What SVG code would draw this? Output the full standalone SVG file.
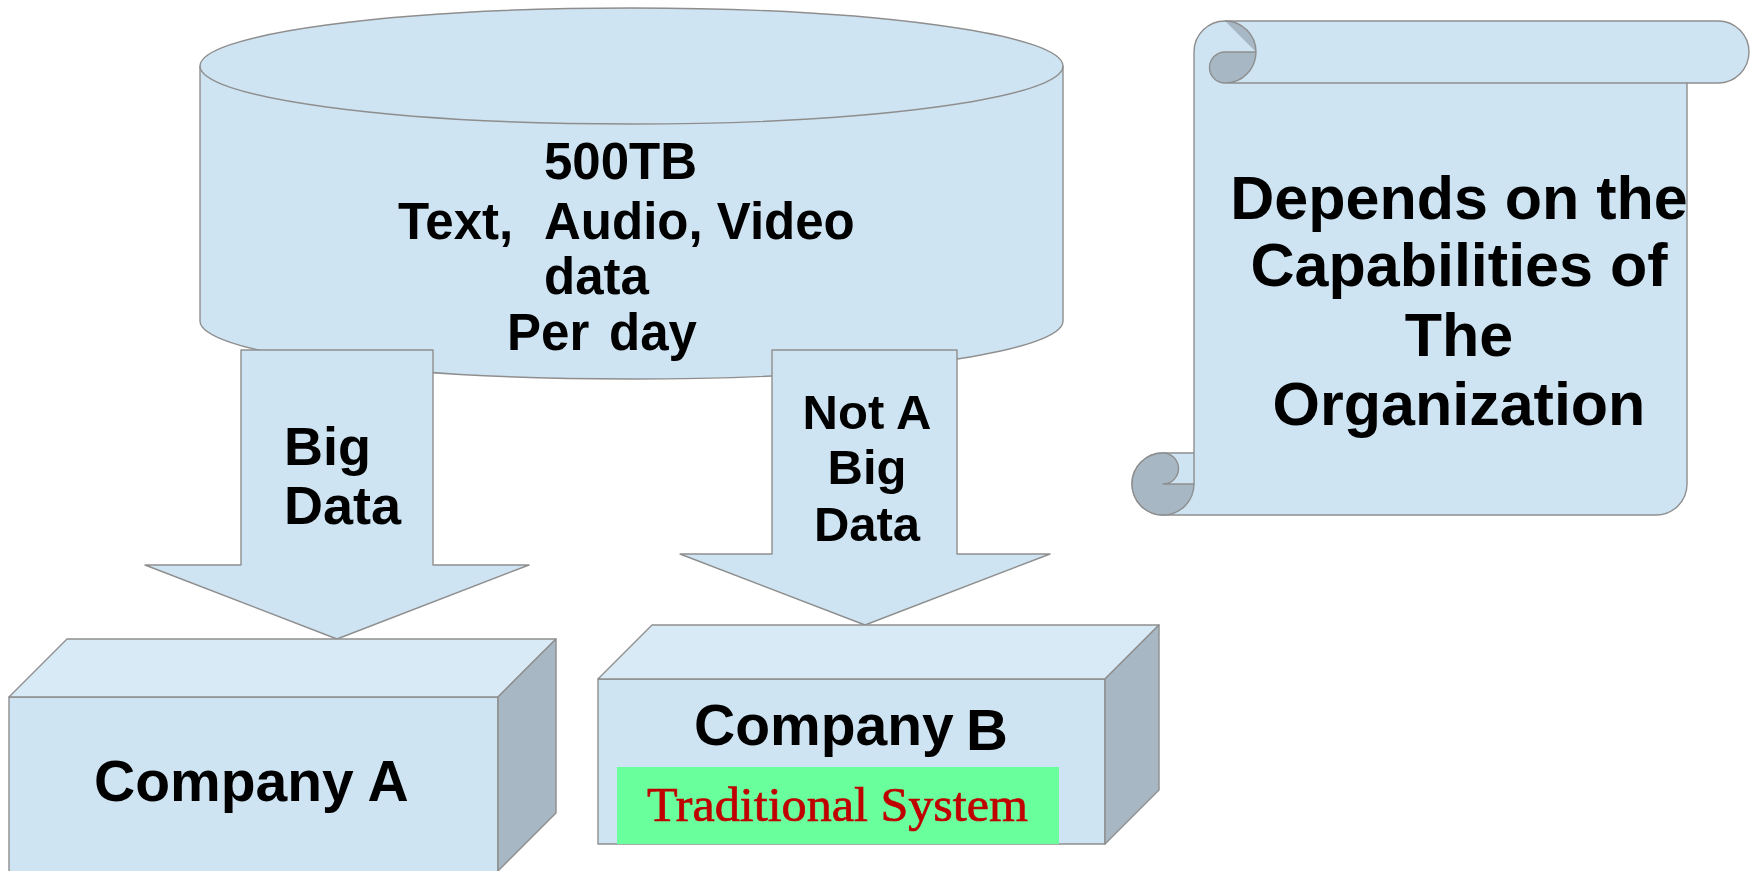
<svg xmlns="http://www.w3.org/2000/svg" width="1752" height="871" viewBox="0 0 1752 871">
  <style>
    .shape { fill: #cfe4f2; stroke: #8e8e8e; stroke-width: 1.4; stroke-linejoin: round; }
    .top { fill: #d7eaf6; stroke: #8e8e8e; stroke-width: 1.4; stroke-linejoin: round; }
    .side { fill: #a7b8c4; stroke: #8e8e8e; stroke-width: 1.4; stroke-linejoin: round; }
    .curl { fill: #a7b8c4; stroke: none; }
    .line { fill: none; stroke: #8e8e8e; stroke-width: 1.4; }
    .lbl { font-family: "Liberation Sans", Arial, sans-serif; font-weight: bold; fill: #000; }
    .tag { font-family: "Liberation Serif", "Times New Roman", serif; fill: #c00000; stroke: #c00000; stroke-width: 0.7; }
  </style>

  <!-- data store: cylinder -->
  <g id="datastore">
    <path class="shape" d="M200,66 A431.5 58 0 0 1 1063,66 L1063,321 A431.5 58 0 0 1 200,321 Z"/>
    <path class="line" d="M200,66 A431.5 58 0 0 0 1063,66"/>
    <g class="lbl" font-size="51">
      <text x="544" y="179">500TB</text>
      <text x="398" y="239">Text,</text>
      <text x="544" y="239">Audio, Video</text>
      <text x="544" y="294">data</text>
      <text x="507" y="350">Per</text>
      <text x="609" y="350">day</text>
    </g>
  </g>

  <!-- block arrows -->
  <g id="connectors">
    <g id="arrow-big">
      <path class="shape" d="M241,350 L433,350 L433,565 L529,565 L337,639 L145,565 L241,565 Z"/>
      <g class="lbl" font-size="54">
        <text x="284" y="465">Big</text>
        <text x="284" y="524">Data</text>
      </g>
    </g>
    <g id="arrow-not-big">
      <path class="shape" d="M772,350 L957,350 L957,554 L1050,554 L865,625 L680,554 L772,554 Z"/>
      <g class="lbl" font-size="49" text-anchor="middle">
        <text x="867" y="429">Not A</text>
        <text x="867" y="484">Big</text>
        <text x="867" y="541">Data</text>
      </g>
    </g>
  </g>

  <!-- Company A block -->
  <g id="company-a">
    <rect class="shape" x="9" y="697" width="489" height="240"/>
    <path class="top" d="M9,697 L67,639 L556,639 L498,697 Z"/>
    <path class="side" d="M498,697 L556,639 L556,813 L498,871 Z"/>
    <text class="lbl" x="94" y="801" font-size="57">Company A</text>
  </g>

  <!-- Company B block -->
  <g id="company-b">
    <rect class="shape" x="598" y="679" width="507" height="165"/>
    <path class="top" d="M598,679 L652,625 L1159,625 L1105,679 Z"/>
    <path class="side" d="M1105,679 L1159,625 L1159,790 L1105,844 Z"/>
    <text class="lbl" x="694" y="745" font-size="57">Company</text>
    <text class="lbl" x="966" y="750" font-size="58">B</text>
    <rect x="617" y="767" width="442" height="77" fill="#69ff9c"/>
    <text class="tag" x="647" y="821" font-size="48" textLength="381" lengthAdjust="spacingAndGlyphs">Traditional System</text>
  </g>

  <!-- scroll note -->
  <g id="scroll-note">
    <path class="shape" d="M1194,484 L1194,52 A31 31 0 0 1 1225,21 L1718,21 A31 31 0 0 1 1718,83 L1687,83 L1687,484 A31 31 0 0 1 1656,515 L1163,515 A31 31 0 0 1 1163,453 L1194,453 Z"/>
    <!-- top curl -->
    <path class="curl" d="M1225,21 A31 31 0 0 1 1256,52 Z"/>
    <path class="curl" d="M1256,52 A31 31 0 0 1 1225,83 A15.5 15.5 0 0 1 1225,52 Z"/>
    <path class="line" d="M1225,21 A31 31 0 0 1 1225,83 A15.5 15.5 0 0 1 1225,52 L1256,52 M1225,83 L1687,83"/>
    <!-- bottom curl -->
    <path class="side" d="M1163,453 A15.5 15.5 0 0 1 1163,484 L1194,484 A31 31 0 0 1 1163,515 A31 31 0 0 1 1163,453 Z"/>
    <g class="lbl" font-size="61" text-anchor="middle">
      <text x="1459" y="219">Depends on the</text>
      <text x="1459" y="286">Capabilities of</text>
      <text x="1459" y="356">The</text>
      <text x="1459" y="425">Organization</text>
    </g>
  </g>
</svg>
